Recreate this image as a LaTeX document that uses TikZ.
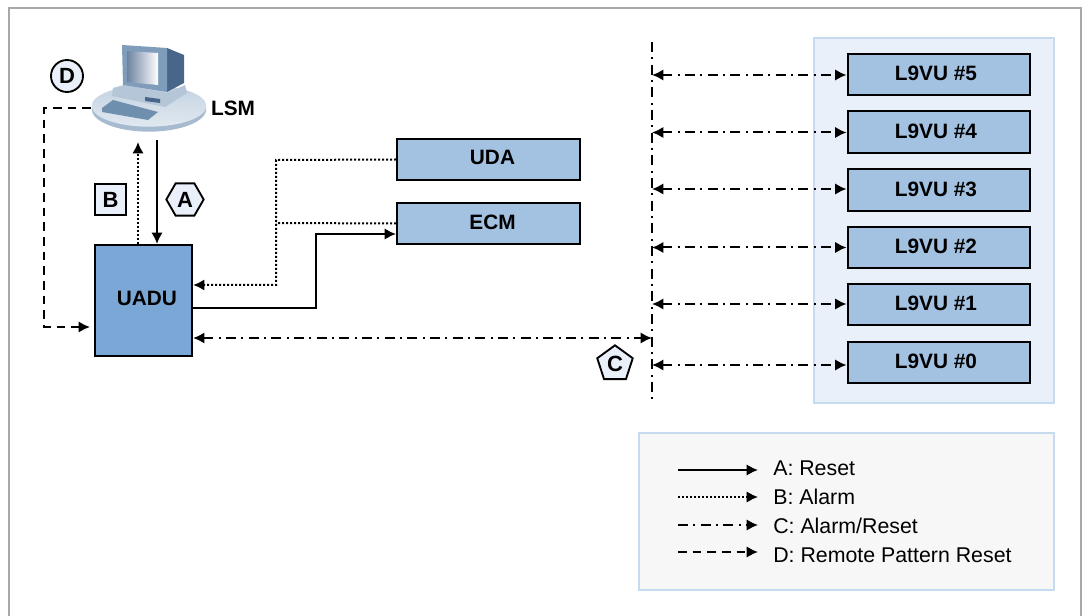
\documentclass[tikz,border=0pt]{standalone}
\usepackage{fontspec}
\setmainfont{Liberation Sans}
\usetikzlibrary{arrows.meta,shapes.geometric}
\definecolor{frameGray}{HTML}{A8A8A8}
\definecolor{panelFill}{HTML}{E9F0F9}
\definecolor{panelLine}{HTML}{C6DAF0}
\definecolor{boxFill}{HTML}{A3C2E2}
\definecolor{uaduFill}{HTML}{7BA7D6}
\definecolor{legendFill}{HTML}{F7F7F7}
\definecolor{diskTop}{HTML}{C3D2E1}
\definecolor{diskRim}{HTML}{A6BBCF}
\definecolor{caseFill}{HTML}{B4C6D7}
\definecolor{screenFill}{HTML}{7F9DBB}
\definecolor{rearFill}{HTML}{48658A}
\definecolor{keysFill}{HTML}{6F8FAE}
\tikzset{
    box/.style={draw=black,line width=1.7pt,fill=boxFill,minimum width=137pt,minimum height=31pt,inner sep=0pt,text depth=1.5pt,font=\fontsize{15.6}{18}\selectfont\bfseries},
    tag/.style={draw=black,line width=1.4pt,fill=panelFill,inner sep=0pt,font=\fontsize{16.5}{18}\selectfont\bfseries},
    legendtext/.style={anchor=west,inner sep=0pt,font=\fontsize{16}{18}\selectfont},
    tip/.style={-{Latex[length=8.5pt,width=8.5pt]}},
    both/.style={{Latex[length=8.5pt,width=8.5pt]}-{Latex[length=8.5pt,width=8.5pt]}},
    reset/.style={line width=1.5pt},
    alarm/.style={line width=1.5pt,dash pattern=on 1.5pt off 1.5pt},
    alarmreset/.style={line width=1.5pt,dash pattern=on 7.5pt off 4pt on 1.5pt off 4pt},
    remote/.style={line width=1.5pt,dash pattern=on 6.5pt off 4.5pt}
}
\begin{document}
\begin{tikzpicture}[x=0.75pt,y=-0.75pt]
    \useasboundingbox (0,0) rectangle (1082,616);
    \draw[frameGray,line width=1.6pt] (9,620) -- (9,8) -- (1081,8) -- (1081,620);
    % panels
    \node[draw=panelLine,line width=1.5pt,fill=panelFill,minimum width=180pt,minimum height=273.75pt,inner sep=0pt] (panel) at (934,220.5) {};
    \node[draw=panelLine,line width=1.5pt,fill=legendFill,minimum width=311pt,minimum height=117.75pt,inner sep=0pt] (legend) at (846.5,511.5) {};
    % computer
    \begin{scope}
    \node[ellipse,fill=diskRim,minimum width=86pt,minimum height=34pt,inner sep=0pt] (lsmrim) at (149,109) {};
    \node[ellipse,top color=diskTop,bottom color=diskTop!50!white,minimum width=86pt,minimum height=31pt,inner sep=0pt] (lsm) at (149,106) {};
    \fill[caseFill] (113,88) -- (124,85) -- (167,93) -- (185,85) -- (187,93) -- (165,107) -- (112,96) -- cycle;
    \fill[rearFill] (167,48) -- (184,55) -- (184,83) -- (167,92) -- cycle;
    \fill[screenFill] (122,45) -- (167,48) -- (167,92) -- (123,85) -- cycle;
    \shade[left color=rearFill!80!white,right color=white] (127,51) -- (158,53) -- (158,85) -- (127,82) -- cycle;
    \fill[rearFill] (145,97) -- (160,99) -- (160,103) -- (145,101) -- cycle;
    \fill[keysFill] (102,108) -- (113,100) -- (158,112) -- (148,120) -- (102,112) -- cycle;
    \end{scope}
    \node[inner sep=0pt,font=\fontsize{15.6}{18}\selectfont\bfseries] (lsmlabel) at (233,108) {LSM};
    % boxes
    \node[box,text depth=3pt] (uda) at (488.5,159.5) {\hspace*{6pt}UDA};
    \node[box] (ecm) at (488.5,223.5) {\hspace*{6pt}ECM};
    \node[box,text depth=3pt,fill=uaduFill,minimum width=72.75pt,minimum height=83.25pt] (uadu) at (143.5,300.5) {\hspace*{5pt}UADU};
    \foreach \n/\y in {5/74.5,4/132,3/190,2/247.5,1/304.5,0/362.5} {
        \node[box] (vu\n) at (939,\y) {L9VU \#\n\hspace*{4.5pt}};
    }
    % tags
    \node[tag,circle,minimum size=24pt] (tagD) at (67,76) {D};
    \node[tag,rectangle,minimum size=23.5pt] (tagB) at (110.5,199.5) {B};
    \node[tag,regular polygon,regular polygon sides=6,minimum size=28pt] (tagA) at (185,199.5) {A};
    \node[tag,regular polygon,regular polygon sides=5,minimum size=28pt] (tagC) at (615,364) {C};
    % free ends
    \coordinate (bustop) at (652,42);
    \coordinate (busbot) at (652,404);
    \coordinate (udacorner) at (276,160);
    \coordinate (ecmjoin) at (276,223);
    \coordinate (lsmB) at (138,142);
    \coordinate (lsmA) at (157,140);
    \coordinate (uaduB) at (138,244);
    \coordinate (uaduA) at (157,244);
    \coordinate (lsmD) at (91,108);
    \coordinate (uaduD) at (90,327);
    \draw[alarmreset] (bustop) -- (busbot);
    \foreach \n/\d in {5/0.5,4/0.5,3/-1,2/0,1/-0.5,0/2.5} {
        \draw[alarmreset,both] ([yshift=-\d*0.75pt]bustop |- vu\n.west) -- ([yshift=-\d*0.75pt]vu\n.west);
    }
    \draw[alarmreset,both] (uadu.east |- 0,338) -- (bustop |- 0,338);
    \draw[reset,tip] (uadu.east |- 0,308) -- (316,308) -- (316,234) -- (ecm.west |- 0,234);
    \draw[alarm,tip] (uda.west) -- (udacorner) -- (276,285) -- (uadu.east |- 0,285);
    \draw[alarm] (ecm.west) -- (ecmjoin);
    \draw[alarm,tip] (uaduB) -- (lsmB);
    \draw[reset,tip] (lsmA) -- (uaduA);
    \draw[remote,tip] (lsmD) -- (44,108) -- (44,327) -- (uaduD);
    % legend
    \foreach \s/\y/\ty/\t in {reset/470/468/A: Reset,alarm/497/497/B: Alarm,alarmreset/525/526/C: Alarm\slash Reset,remote/552/555/D: Remote Pattern Reset} {
        \node[legendtext] (key\s) at (773,\ty) {\t};
        \coordinate (start\s) at (678,\y);
        \draw[\s,tip,line width=1.3pt] (start\s) -- (758,\y);
    }
\end{tikzpicture}
\end{document}
